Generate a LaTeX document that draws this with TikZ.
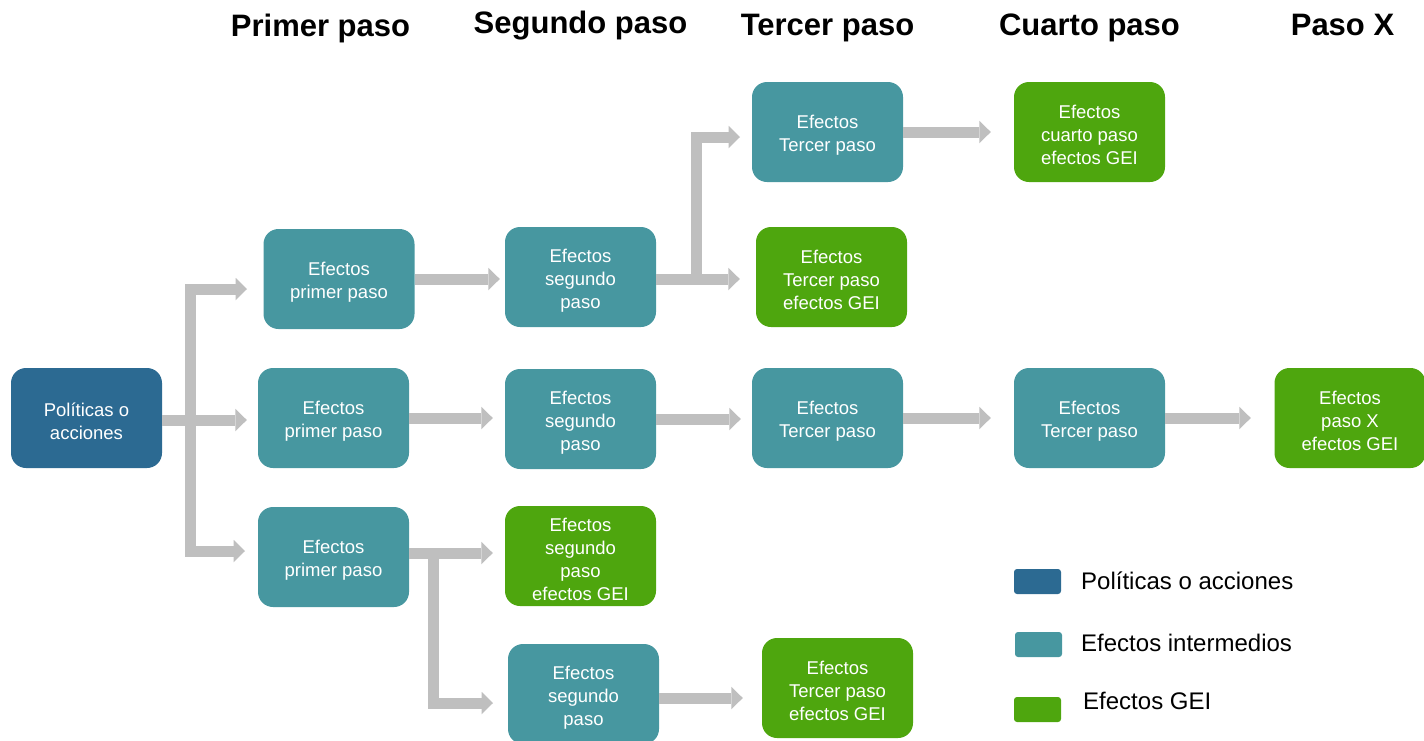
\documentclass[tikz,border=0pt]{standalone}
\usepackage{fontspec}
\setmainfont{Liberation Sans}
\usetikzlibrary{arrows.meta,calc}
\definecolor{polblue}{RGB}{44,106,146}
\definecolor{midteal}{RGB}{71,151,160}
\definecolor{geigreen}{RGB}{78,166,14}
\definecolor{bargray}{RGB}{191,191,191}
\newcommand\boxtop{\rule{0pt}{20pt}}
\begin{document}
\begin{tikzpicture}[x=1pt,y=-1pt,
  box/.style={rounded corners=15pt, minimum width=151pt, minimum height=100pt, inner sep=0pt, text=white, align=center, font=\fontsize{18.5}{23}\selectfont},
  polbox/.style={box, fill=polblue},
  midbox/.style={box, fill=midteal},
  geibox/.style={box, fill=geigreen},
  bar/.style={draw=bargray, line width=11pt, line join=miter, -{Triangle[length=11.5pt,width=22.5pt,line width=0pt,color=bargray]}},
  hdr/.style={font=\bfseries\fontsize{31}{36}\selectfont, anchor=base, inner sep=0pt},
  legsq/.style={rounded corners=3pt, minimum width=47pt, minimum height=25pt, inner sep=0pt},
  legtxt/.style={font=\fontsize{24}{28}\selectfont, anchor=west, inner sep=0pt}]
\useasboundingbox (0,0) rectangle (1424,740);

% headers
\node[hdr] (h1) at (320.5,36) {Primer paso};
\node[hdr] (h2) at (580.5,33) {Segundo paso};
\node[hdr] (h3) at (827.5,35) {Tercer paso};
\node[hdr] (h4) at (1089.5,35) {Cuarto paso};
\node[hdr] (h5) at (1342.5,35) {Paso X};

% boxes
\node[polbox] (pol) at (86.5,418) {\boxtop Políticas o\\acciones};
\node[midbox] (p1) at (339,279) {\boxtop Efectos\\primer paso};
\node[midbox] (p2) at (333.5,418) {\boxtop Efectos\\primer paso};
\node[midbox] (p3) at (333.5,557) {\boxtop Efectos\\primer paso};
\node[midbox] (s1) at (580.5,277) {\boxtop Efectos\\segundo\\paso};
\node[midbox] (s2) at (580.5,419) {\boxtop Efectos\\segundo\\paso};
\node[geibox] (sg) at (580.5,556) {\boxtop Efectos\\segundo\\paso\\efectos GEI};
\node[midbox] (s3) at (583.5,694) {\boxtop Efectos\\segundo\\paso};
\node[midbox] (t1) at (827.5,132) {\boxtop Efectos\\Tercer paso};
\node[geibox] (tg1) at (831.5,277) {\boxtop Efectos\\Tercer paso\\efectos GEI};
\node[midbox] (t2) at (827.5,418) {\boxtop Efectos\\Tercer paso};
\node[geibox] (tg3) at (837.5,688) {\boxtop Efectos\\Tercer paso\\efectos GEI};
\node[geibox] (c1) at (1089.5,132) {\boxtop Efectos\\cuarto paso\\efectos GEI};
\node[midbox] (c2) at (1089.5,418) {\boxtop Efectos\\Tercer paso};
\node[geibox] (x1) at (1350,418) {\boxtop Efectos\\paso X\\efectos GEI};

% connector points
\coordinate (j1) at (190.5,420);
\coordinate (u1) at (190.5,289);
\coordinate (u1t) at (247,289);
\coordinate (d1) at (190.5,551);
\coordinate (d1t) at (245,551);
\coordinate (j3) at (433.5,553);
\coordinate (d3) at (433.5,703);
\coordinate (d3t) at (493,703);
\coordinate (j5) at (696.5,279);
\coordinate (u5) at (696.5,137);
\coordinate (u5t) at (740,137);

% connectors
\draw[bar, shorten >=11pt] (pol.east |- j1) -- (j1 -| p2.west);
\draw[bar] (j1) -- (u1) -- (u1t);
\draw[bar] (j1) -- (d1) -- (d1t);
\draw[bar, shorten >=5pt] (p1.east) -- (p1.east -| s1.west);
\draw[bar, shorten >=12pt] (p2.east) -- (p2.east -| s2.west);
\draw[bar, shorten >=12pt] (p3.east |- j3) -- (j3 -| sg.west);
\draw[bar] (j3) -- (d3) -- (d3t);
\draw[bar, shorten >=16pt] (s1.east |- j5) -- (j5 -| tg1.west);
\draw[bar] (j5) -- (u5) -- (u5t);
\draw[bar, shorten >=23pt] (t1.east) -- (t1.east -| c1.west);
\draw[bar, shorten >=11pt] (s2.east) -- (s2.east -| t2.west);
\draw[bar, shorten >=23pt] (t2.east) -- (t2.east -| c2.west);
\draw[bar, shorten >=23.5pt] (c2.east) -- (c2.east -| x1.west);
\draw[bar, shorten >=19pt] ([yshift=-4pt]s3.east) -- ([yshift=-4pt]s3.east -| tg3.west);

% legend
\node[legsq, fill=polblue] (l1) at (1037.5,581.5) {};
\node[legsq, fill=midteal] (l2) at (1038.5,644.5) {};
\node[legsq, fill=geigreen] (l3) at (1037.5,709.5) {};
\node[legtxt] (lt1) at (1081,581) {Políticas o acciones};
\node[legtxt] (lt2) at (1081,643) {Efectos intermedios};
\node[legtxt] (lt3) at (1083,701) {Efectos GEI};
\end{tikzpicture}
\end{document}
